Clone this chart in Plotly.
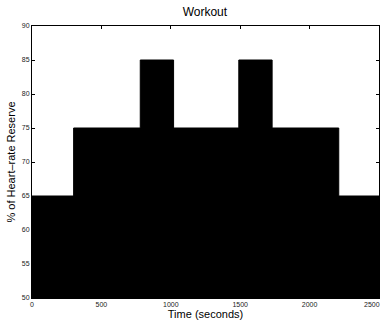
import plotly.graph_objects as go

# Step boundaries (seconds) and intensity (% of heart-rate reserve)
time_edges = [0, 300, 780, 1020, 1490, 1730, 2210, 2500]
intensity = [65, 75, 85, 75, 85, 75, 65, 65]

x_ticks = [0, 500, 1000, 1500, 2000, 2500]
y_ticks = [50, 55, 60, 65, 70, 75, 80, 85, 90]

FONT = "Liberation Sans, Arial, sans-serif"

fig = go.Figure()
fig.add_trace(go.Scatter(
    x=time_edges, y=intensity,
    mode="lines", line=dict(shape="hv", color="black", width=1),
    fill="tozeroy", fillcolor="black",
    showlegend=False, hoverinfo="skip",
))

axis_common = dict(
    showline=True, linecolor="black", linewidth=1, mirror="ticks",
    ticks="inside", ticklen=3, tickcolor="black",
    showgrid=False, zeroline=False,
    tickfont=dict(family=FONT, size=7, color="#222"),
)

fig.update_layout(
    width=383, height=323,
    margin=dict(l=32, r=4, t=26, b=25),
    paper_bgcolor="white", plot_bgcolor="white",
    title=dict(text="Workout", x=0.535, xanchor="center", y=0.962, yanchor="middle",
               font=dict(family=FONT, size=12, color="black")),
    xaxis=dict(range=[0, 2500], tickvals=x_ticks[:-1], ticktext=[str(v) for v in x_ticks[:-1]],
               title=dict(text="Time (seconds)", standoff=0,
                          font=dict(family=FONT, size=11, color="black")),
               **axis_common),
    yaxis=dict(range=[50, 90], tickvals=y_ticks, ticktext=[str(v) for v in y_ticks],
               title=dict(text="% of Heart\u2013rate Reserve", standoff=3,
                          font=dict(family=FONT, size=11, color="black")),
               **axis_common),
)

# Last x tick label, nudged left so it stays inside the window
fig.add_annotation(x=x_ticks[-1], xref="x", y=0, yref="paper", yanchor="top",
                   xanchor="right", xshift=3, yshift=-1, text=str(x_ticks[-1]),
                   showarrow=False, font=dict(family=FONT, size=7, color="#222"))

fig.write_html("out.html")
